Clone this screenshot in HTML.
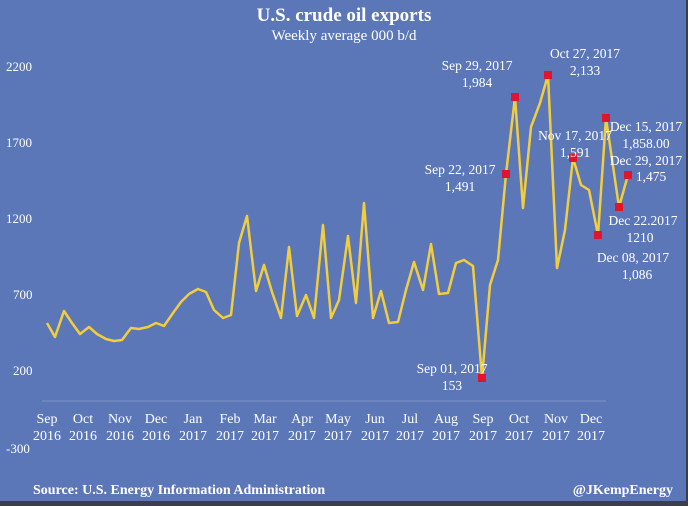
<!DOCTYPE html>
<html><head><meta charset="utf-8"><style>
html,body{margin:0;padding:0}
body{width:688px;height:506px;overflow:hidden;background:#fff}
svg{display:block}
text{font-family:"Liberation Serif",serif;fill:#fff}
</style></head><body>
<svg width="688" height="506" viewBox="0 0 688 506">
<rect x="0" y="0" width="686" height="501" fill="#5b77b8"/>
<rect x="0" y="501" width="688" height="5" fill="#3a3f4a"/>
<rect x="686" y="0" width="2" height="506" fill="#3a3f4a"/>
<text x="344" y="21" font-size="19" font-weight="bold" text-anchor="middle">U.S. crude oil exports</text>
<text x="344" y="40" font-size="15" text-anchor="middle">Weekly average 000 b/d</text>
<g font-size="13">
<text x="6" y="71">2200</text>
<text x="6" y="147">1700</text>
<text x="6" y="223">1200</text>
<text x="13" y="299">700</text>
<text x="13" y="375">200</text>
<text x="6" y="453">-300</text>
</g>
<line x1="42" y1="401" x2="606" y2="401" stroke="#7f93c4" stroke-width="1"/>
<g font-size="14" text-anchor="middle">
<text x="47" y="423">Sep</text><text x="47" y="440">2016</text>
<text x="83" y="423">Oct</text><text x="83" y="440">2016</text>
<text x="120" y="423">Nov</text><text x="120" y="440">2016</text>
<text x="156" y="423">Dec</text><text x="156" y="440">2016</text>
<text x="193" y="423">Jan</text><text x="193" y="440">2017</text>
<text x="230" y="423">Feb</text><text x="230" y="440">2017</text>
<text x="265" y="423">Mar</text><text x="265" y="440">2017</text>
<text x="302" y="423">Apr</text><text x="302" y="440">2017</text>
<text x="338" y="423">May</text><text x="338" y="440">2017</text>
<text x="375" y="423">Jun</text><text x="375" y="440">2017</text>
<text x="410" y="423">Jul</text><text x="410" y="440">2017</text>
<text x="446" y="423">Aug</text><text x="446" y="440">2017</text>
<text x="483" y="423">Sep</text><text x="483" y="440">2017</text>
<text x="519" y="423">Oct</text><text x="519" y="440">2017</text>
<text x="556" y="423">Nov</text><text x="556" y="440">2017</text>
<text x="591" y="423">Dec</text><text x="591" y="440">2017</text>
</g>
<polyline fill="none" stroke="#f2cd3c" stroke-width="2.5" stroke-linejoin="round" points="47,323 55,337 64,311 72,323 80,334 89,327 97,334 106,339 114,341 122,340 131,328 139,329 148,327 156,323 164,326 173,313 181,302 189,294 198,289 206,292 214,310 223,318 231,315 239,243 247,216 256,291 264,265 272,292 281,318 289,247 297,316 306,295 314,318 323,225 331,318 339,300 348,236 356,303 364,203 373,318 381,291 389,323 398,322 406,290 414,262 423,290 431,244 439,294 448,293 456,263 464,260 473,266 482,378 490,285 498,260 506,174 515,97 523,208 531,127 540,103 548,75 557,268 565,230 573,158 581,185 589,190 598,235 606,118 619,207 628,175"/>
<g fill="#e0142c">
<rect x="478" y="374" width="8" height="8"/>
<rect x="502" y="170" width="8" height="8"/>
<rect x="511" y="93" width="8" height="8"/>
<rect x="544" y="71" width="8" height="8"/>
<rect x="569" y="154" width="8" height="8"/>
<rect x="594" y="231" width="8" height="8"/>
<rect x="602" y="114" width="8" height="8"/>
<rect x="615" y="203" width="8" height="8"/>
<rect x="624" y="171" width="8" height="8"/>
</g>
<g font-size="13.5">
<text x="452" y="373" text-anchor="middle">Sep 01, 2017</text>
<text x="452" y="390" text-anchor="middle">153</text>
<text x="460" y="174" text-anchor="middle">Sep 22, 2017</text>
<text x="460" y="191" text-anchor="middle">1,491</text>
<text x="477" y="70" text-anchor="middle">Sep 29, 2017</text>
<text x="477" y="87" text-anchor="middle">1,984</text>
<text x="585" y="58" text-anchor="middle">Oct 27, 2017</text>
<text x="585" y="75" text-anchor="middle">2,133</text>
<text x="646" y="131" text-anchor="middle">Dec 15, 2017</text>
<text x="646" y="148" text-anchor="middle">1,858.00</text>
<text x="575" y="140" text-anchor="middle">Nov 17, 2017</text>
<text x="575" y="157" text-anchor="middle">1,591</text>
<text x="646" y="165" text-anchor="middle">Dec 29, 2017</text>
<text x="651" y="181" text-anchor="middle">1,475</text>
<text x="643" y="225" text-anchor="middle">Dec 22.2017</text>
<text x="640" y="242" text-anchor="middle">1210</text>
<text x="633" y="262" text-anchor="middle">Dec 08, 2017</text>
<text x="637" y="279" text-anchor="middle">1,086</text>
</g>
<text x="33" y="494" font-size="14" font-weight="bold">Source: U.S. Energy Information Administration</text>
<text x="673" y="494" font-size="14" font-weight="bold" text-anchor="end">@JKempEnergy</text>
</svg>
</body></html>
